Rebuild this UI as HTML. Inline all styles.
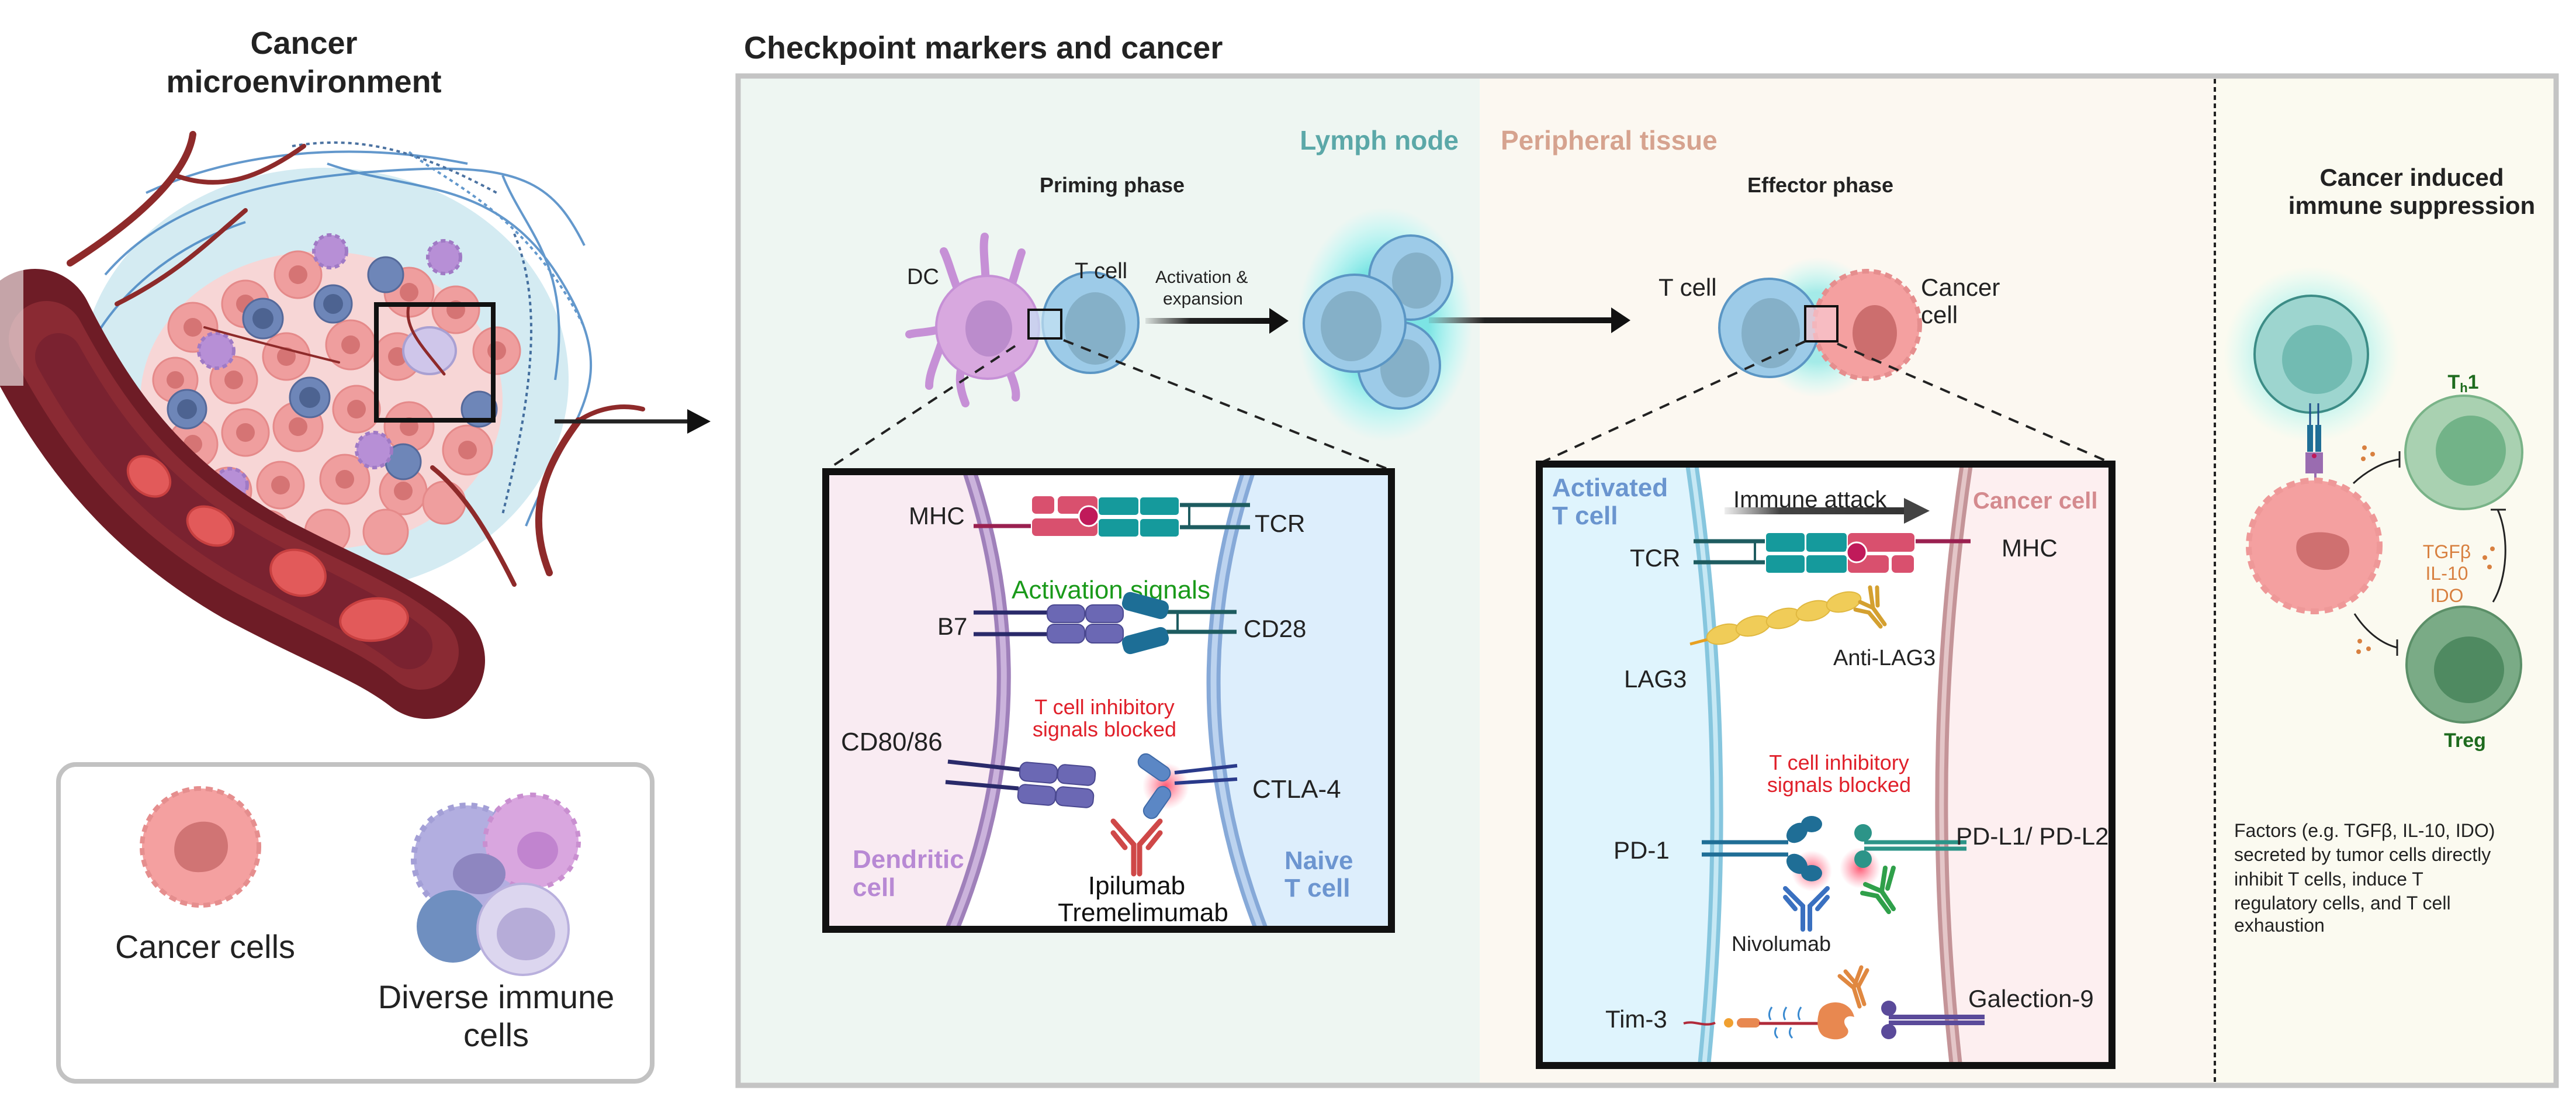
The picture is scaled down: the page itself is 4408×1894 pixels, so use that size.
<!DOCTYPE html>
<html><head><meta charset="utf-8">
<style>
html,body{margin:0;padding:0;background:#fff;}
svg{display:block;}
text{font-family:"Liberation Sans",Arial,sans-serif;}
</style></head>
<body>
<svg width="4408" height="1894" viewBox="0 0 4408 1894" xmlns="http://www.w3.org/2000/svg">
<defs>
<linearGradient id="ag1" gradientUnits="userSpaceOnUse" x1="1960" y1="0" x2="2180" y2="0"><stop offset="0" stop-color="#222" stop-opacity="0.1"/><stop offset="0.35" stop-color="#222"/><stop offset="1" stop-color="#111"/></linearGradient>
<linearGradient id="ag3" gradientUnits="userSpaceOnUse" x1="2445" y1="0" x2="2765" y2="0"><stop offset="0" stop-color="#222" stop-opacity="0.1"/><stop offset="0.3" stop-color="#222"/><stop offset="1" stop-color="#111"/></linearGradient>
<linearGradient id="ag2" gradientUnits="userSpaceOnUse" x1="2951" y1="0" x2="3265" y2="0"><stop offset="0" stop-color="#555" stop-opacity="0.1"/><stop offset="0.3" stop-color="#444"/><stop offset="1" stop-color="#333"/></linearGradient>
<radialGradient id="glow"><stop offset="0.5" stop-color="#5fe0e0" stop-opacity="0.8"/><stop offset="1" stop-color="#8ff" stop-opacity="0"/></radialGradient>
<radialGradient id="rglow"><stop offset="0" stop-color="#ff3050" stop-opacity="0.8"/><stop offset="1" stop-color="#ff6080" stop-opacity="0"/></radialGradient>
</defs>

<text x="520" y="92" font-size="54" font-weight="bold" text-anchor="middle" fill="#222">Cancer</text>
<text x="520" y="158" font-size="54" font-weight="bold" text-anchor="middle" fill="#222">microenvironment</text>

<ellipse cx="555" cy="650" rx="418" ry="363" fill="#cfe9f1" opacity="0.9"/>
<g stroke="#3d7fc0" stroke-width="4" fill="none" opacity="0.8">
<path d="M180,470 C300,330 500,300 700,290 S950,320 1000,420"/>
<path d="M250,330 C400,260 600,240 800,280"/>
<path d="M560,280 C700,330 850,300 960,480 S980,700 900,900"/>
<path d="M150,600 C200,500 300,420 420,380"/>
<path d="M860,300 C900,400 980,450 950,650"/>
<path d="M700,260 C760,310 900,360 1000,560" stroke-dasharray="6 6"/>
<path d="M500,250 C620,230 720,260 850,330" stroke-dasharray="6 6" stroke="#1f4f8a"/>
<path d="M880,400 C930,520 910,680 860,880" stroke-dasharray="6 6" stroke="#1f4f8a"/>
</g>
<ellipse cx="550" cy="685" rx="310" ry="255" fill="#f7d6d6"/>
<g fill="#ef9e9e" stroke="#e58a8a" stroke-width="3">
<circle cx="330" cy="560" r="42"/><circle cx="420" cy="520" r="40"/><circle cx="510" cy="470" r="40"/><circle cx="700" cy="500" r="42"/><circle cx="780" cy="530" r="40"/>
<circle cx="300" cy="650" r="38"/><circle cx="400" cy="650" r="40"/><circle cx="490" cy="610" r="40"/><circle cx="600" cy="590" r="42"/><circle cx="680" cy="610" r="40"/><circle cx="850" cy="600" r="40"/>
<circle cx="330" cy="760" r="42"/><circle cx="420" cy="740" r="40"/><circle cx="510" cy="730" r="42"/><circle cx="610" cy="700" r="40"/><circle cx="700" cy="730" r="42"/><circle cx="800" cy="770" r="42"/>
<circle cx="390" cy="840" r="40"/><circle cx="480" cy="830" r="40"/><circle cx="590" cy="820" r="42"/><circle cx="690" cy="840" r="40"/><circle cx="560" cy="910" r="38"/><circle cx="460" cy="910" r="36"/><circle cx="660" cy="910" r="38"/><circle cx="760" cy="860" r="36"/>
</g>
<g fill="#d57474">
<circle cx="330" cy="560" r="16"/><circle cx="420" cy="520" r="16"/><circle cx="510" cy="470" r="16"/><circle cx="700" cy="500" r="16"/><circle cx="780" cy="530" r="16"/>
<circle cx="300" cy="650" r="15"/><circle cx="400" cy="650" r="16"/><circle cx="490" cy="610" r="16"/><circle cx="600" cy="590" r="16"/><circle cx="680" cy="610" r="16"/><circle cx="850" cy="600" r="16"/>
<circle cx="330" cy="760" r="16"/><circle cx="420" cy="740" r="16"/><circle cx="510" cy="730" r="16"/><circle cx="610" cy="700" r="16"/><circle cx="700" cy="730" r="16"/><circle cx="800" cy="770" r="16"/>
<circle cx="390" cy="840" r="16"/><circle cx="480" cy="830" r="16"/><circle cx="590" cy="820" r="16"/><circle cx="690" cy="840" r="16"/>
</g>
<g fill="#6e86b8" stroke="#55699a" stroke-width="3">
<circle cx="450" cy="545" r="34"/><circle cx="570" cy="520" r="32"/><circle cx="320" cy="700" r="33"/><circle cx="530" cy="680" r="34"/><circle cx="820" cy="700" r="30"/><circle cx="660" cy="470" r="30"/><circle cx="690" cy="790" r="30"/>
</g>
<g fill="#4d6391"><circle cx="450" cy="545" r="18"/><circle cx="570" cy="520" r="17"/><circle cx="320" cy="700" r="17"/><circle cx="530" cy="680" r="18"/></g>
<g fill="#b78fd6" stroke="#a07ac5" stroke-width="6" stroke-dasharray="8 6">
<circle cx="370" cy="600" r="30"/><circle cx="640" cy="770" r="30"/><circle cx="395" cy="830" r="28"/><circle cx="565" cy="430" r="28"/><circle cx="760" cy="440" r="28"/>
</g>
<ellipse cx="735" cy="600" rx="45" ry="40" fill="#cfc6ea" stroke="#a9a0d2" stroke-width="4"/>
<g stroke="#8e2a2a" stroke-width="8" fill="none" stroke-linecap="round">
<path d="M120,450 C230,380 320,300 330,230" stroke-width="12"/>
<path d="M300,300 C380,330 450,300 520,250"/>
<path d="M200,520 C300,470 350,420 420,360"/>
<path d="M940,980 C900,880 930,800 990,720" stroke-width="12"/>
<path d="M990,720 C1020,700 1060,690 1100,700"/>
<path d="M880,1000 C830,900 790,840 740,800"/>
<path d="M760,640 C720,590 690,560 700,520" stroke-width="5"/>
<path d="M350,560 C420,580 500,600 580,620" stroke-width="4"/>
</g>
<!-- blood vessel -->
<path d="M60,560 C140,720 240,860 430,970 C570,1045 660,1075 730,1130" stroke="#6e1c26" stroke-width="200" fill="none" stroke-linecap="round"/>
<path d="M80,580 C160,730 255,860 440,960 C575,1030 655,1060 720,1115" stroke="#8a2a33" stroke-width="130" fill="none" stroke-linecap="round"/>
<path d="M100,610 C175,745 265,865 450,965 C575,1030 645,1060 700,1105" stroke="#7a2230" stroke-width="80" fill="none" stroke-linecap="round"/>
<rect x="0" y="430" width="40" height="230" fill="#fff" opacity="0.6"/>
<g fill="#e25a5a" stroke="#c84040" stroke-width="4">
<ellipse cx="255" cy="815" rx="40" ry="30" transform="rotate(40 255 815)"/>
<ellipse cx="360" cy="900" rx="42" ry="30" transform="rotate(30 360 900)"/>
<ellipse cx="510" cy="980" rx="48" ry="38" transform="rotate(20 510 980)"/>
<ellipse cx="640" cy="1060" rx="58" ry="36" transform="rotate(-5 640 1060)"/>
</g>
<rect x="644" y="521" width="200" height="198" fill="none" stroke="#111" stroke-width="8"/>
<line x1="949" y1="721" x2="1180" y2="721" stroke="#222" stroke-width="7"/>
<polygon points="1176,700 1216,721 1176,742" fill="#111"/>

<rect x="100" y="1308" width="1016" height="542" rx="30" fill="#fff" stroke="#c2c2c2" stroke-width="8"/>
<circle cx="343" cy="1449" r="100" fill="#f4a0a0" stroke="#e58e8e" stroke-width="8" stroke-dasharray="12 8"/>
<path d="M300,1440 C310,1400 370,1395 385,1425 C400,1460 380,1490 345,1492 C310,1495 292,1470 300,1440Z" fill="#d07474"/>
<text x="351" y="1639" font-size="56" text-anchor="middle" fill="#222">Cancer cells</text>
<circle cx="800" cy="1470" r="92" fill="#b2aee0" stroke="#a39fd6" stroke-width="10" stroke-dasharray="10 10"/>
<circle cx="910" cy="1440" r="80" fill="#d9a6df" stroke="#c98fd0" stroke-width="8" stroke-dasharray="10 12"/>
<ellipse cx="820" cy="1495" rx="45" ry="35" fill="#8e86c0"/>
<ellipse cx="920" cy="1455" rx="35" ry="32" fill="#c184cf"/>
<circle cx="775" cy="1585" r="62" fill="#6f8fc0"/>
<circle cx="895" cy="1590" r="78" fill="#dcd6ef" stroke="#b9b0dd" stroke-width="4"/>
<ellipse cx="900" cy="1598" rx="50" ry="45" fill="#b6acd8"/>
<text x="849" y="1725" font-size="56" text-anchor="middle" fill="#222">Diverse immune</text>
<text x="849" y="1790" font-size="56" text-anchor="middle" fill="#222">cells</text>

<text x="1273" y="100" font-size="54" font-weight="bold" fill="#222">Checkpoint markers and cancer</text>
<rect x="1264" y="131" width="1268" height="1725" fill="#eef6f2"/>
<rect x="2532" y="131" width="1258" height="1725" fill="#fcf8f1"/>
<rect x="3790" y="131" width="582" height="1725" fill="#fbfaf0"/>
<rect x="1263" y="130" width="3111" height="1727" fill="none" stroke="#c4c4c4" stroke-width="9"/>
<line x1="3790" y1="135" x2="3790" y2="1852" stroke="#222" stroke-width="4" stroke-dasharray="8 6"/>

<text x="2496" y="256" font-size="46" font-weight="bold" text-anchor="end" fill="#5ba8a8">Lymph node</text>
<text x="2568" y="256" font-size="46" font-weight="bold" fill="#d6a38f">Peripheral tissue</text>
<text x="1903" y="329" font-size="36" font-weight="bold" text-anchor="middle" fill="#222">Priming phase</text>
<text x="3115" y="329" font-size="36" font-weight="bold" text-anchor="middle" fill="#222">Effector phase</text>

<g stroke="#c690d6" stroke-width="14" stroke-linecap="round" fill="none">
<path d="M1686,520 C1690,470 1680,430 1685,405"/>
<path d="M1650,520 C1630,480 1625,450 1615,430"/>
<path d="M1720,520 C1735,480 1740,455 1748,432"/>
<path d="M1620,560 C1590,570 1570,568 1556,572"/>
<path d="M1650,610 C1640,640 1640,660 1652,690"/>
<path d="M1720,620 C1735,650 1740,670 1738,680"/>
<path d="M1610,590 C1600,620 1590,640 1590,660"/>
</g>
<ellipse cx="1690" cy="560" rx="88" ry="88" fill="#d8a8df" stroke="#c690d6" stroke-width="4"/>
<ellipse cx="1692" cy="562" rx="40" ry="48" fill="#bb8ccc"/>
<ellipse cx="1866" cy="552" rx="82" ry="86" fill="#9dcbe8" stroke="#5b96c4" stroke-width="4"/>
<ellipse cx="1874" cy="562" rx="52" ry="62" fill="#85b0c8"/>
<rect x="1760" y="530" width="56" height="49" fill="#c6e2f4" fill-opacity="0.7" stroke="#111" stroke-width="4"/>
<text x="1552" y="486" font-size="38" fill="#222">DC</text>
<text x="1839" y="476" font-size="38" fill="#222">T cell</text>
<text x="1977" y="484" font-size="30" fill="#222">Activation &amp;</text>
<text x="1990" y="521" font-size="30" fill="#222">expansion</text>
<rect x="1960" y="544" width="220" height="10" fill="url(#ag1)"/>
<polygon points="2172,527 2205,549 2172,571" fill="#111"/>

<ellipse cx="2370" cy="555" rx="150" ry="200" fill="url(#glow)"/>
<ellipse cx="2414" cy="475" rx="71" ry="72" fill="#9dcbe8" stroke="#5b96c4" stroke-width="4"/>
<ellipse cx="2424" cy="480" rx="42" ry="48" fill="#85b0c8"/>
<ellipse cx="2394" cy="625" rx="70" ry="74" fill="#9dcbe8" stroke="#5b96c4" stroke-width="4"/>
<ellipse cx="2404" cy="630" rx="42" ry="50" fill="#85b0c8"/>
<ellipse cx="2318" cy="553" rx="87" ry="83" fill="#9dcbe8" stroke="#5b96c4" stroke-width="4"/>
<ellipse cx="2312" cy="558" rx="52" ry="60" fill="#85b0c8"/>
<rect x="2445" y="543" width="320" height="10" fill="url(#ag3)"/>
<polygon points="2757,526 2790,548 2757,570" fill="#111"/>

<ellipse cx="3110" cy="560" rx="110" ry="120" fill="url(#glow)" opacity="0.7"/>
<ellipse cx="3027" cy="561" rx="85" ry="84" fill="#9dcbe8" stroke="#5b96c4" stroke-width="4"/>
<ellipse cx="3030" cy="570" rx="50" ry="60" fill="#85b0c8"/>
<ellipse cx="3195" cy="556" rx="90" ry="92" fill="#f4a0a0" stroke="#e58e8e" stroke-width="8" stroke-dasharray="12 8"/>
<ellipse cx="3208" cy="570" rx="38" ry="48" fill="#cc6e6e"/>
<rect x="3089" y="524" width="55" height="60" fill="#f8c8d0" fill-opacity="0.7" stroke="#111" stroke-width="4"/>
<text x="2838" y="506" font-size="42" fill="#222">T cell</text>
<text x="3287" y="506" font-size="42" fill="#222">Cancer</text>
<text x="3287" y="553" font-size="42" fill="#222">cell</text>

<g stroke="#222" stroke-width="4" stroke-dasharray="18 14" fill="none">
<line x1="1737" y1="592" x2="1413" y2="805"/>
<line x1="1820" y1="582" x2="2381" y2="805"/>
<line x1="3089" y1="584" x2="2636" y2="792"/>
<line x1="3144" y1="588" x2="3612" y2="792"/>
</g>

<rect x="1413" y="807" width="968" height="783" fill="#fff"/>
<path d="M1413,807 L1659,807 Q1790,1200 1629,1590 L1413,1590 Z" fill="#f9ebf2"/>
<path d="M2381,807 L2136,807 Q2007,1200 2158,1590 L2381,1590 Z" fill="#ddeefc"/>
<path d="M1659,807 Q1790,1200 1629,1590" stroke="#9f80ba" stroke-width="24" fill="none"/>
<path d="M1659,807 Q1790,1200 1629,1590" stroke="#cbb3dc" stroke-width="10" fill="none"/>
<path d="M2136,807 Q2007,1200 2158,1590" stroke="#86a9d8" stroke-width="24" fill="none"/>
<path d="M2136,807 Q2007,1200 2158,1590" stroke="#bcd3ef" stroke-width="10" fill="none"/>
<line x1="1666" y1="900" x2="1770" y2="900" stroke="#9a2050" stroke-width="7"/>
<line x1="2015" y1="864" x2="2139" y2="864" stroke="#1e5c60" stroke-width="7"/>
<line x1="2015" y1="902" x2="2139" y2="902" stroke="#1e5c60" stroke-width="7"/>
<line x1="2035" y1="864" x2="2035" y2="902" stroke="#1e5c60" stroke-width="4"/>
<g fill="#d9506e" stroke="#fff" stroke-width="2">
<rect x="1765" y="848" width="40" height="32" rx="8"/><rect x="1809" y="848" width="70" height="32" rx="8"/>
<rect x="1765" y="886" width="114" height="32" rx="8"/>
</g>
<g fill="#159a9c" stroke="#fff" stroke-width="2">
<rect x="1879" y="850" width="70" height="32" rx="6"/><rect x="1950" y="850" width="68" height="32" rx="6"/>
<rect x="1879" y="887" width="70" height="32" rx="6"/><rect x="1950" y="887" width="68" height="32" rx="6"/>
</g>
<circle cx="1863" cy="883" r="17" fill="#c01a5a" stroke="#fff" stroke-width="3"/>
<text x="1555" y="897" font-size="42" fill="#222">MHC</text>
<text x="2147" y="910" font-size="42" fill="#222">TCR</text>
<text x="1731" y="1024" font-size="44" fill="#1a9a1a">Activation signals</text>
<line x1="1666" y1="1048" x2="1795" y2="1048" stroke="#2a2a6a" stroke-width="7"/>
<line x1="1666" y1="1085" x2="1795" y2="1085" stroke="#2a2a6a" stroke-width="7"/>
<line x1="1995" y1="1047" x2="2116" y2="1047" stroke="#1e5c60" stroke-width="7"/>
<line x1="1995" y1="1081" x2="2116" y2="1081" stroke="#1e5c60" stroke-width="7"/>
<line x1="2015" y1="1047" x2="2015" y2="1081" stroke="#1e5c60" stroke-width="4"/>
<g fill="#6b68b4" stroke="#4a4890" stroke-width="2">
<rect x="1792" y="1035" width="64" height="30" rx="12"/><rect x="1858" y="1035" width="64" height="30" rx="12"/>
<rect x="1792" y="1068" width="64" height="32" rx="12"/><rect x="1858" y="1068" width="64" height="32" rx="12"/>
</g>
<g fill="#1d6e96">
<rect x="1920" y="1020" width="80" height="32" rx="12" transform="rotate(15 1960 1036)"/>
<rect x="1920" y="1080" width="80" height="32" rx="12" transform="rotate(-15 1960 1096)"/>
</g>
<text x="1604" y="1086" font-size="42" fill="#222">B7</text>
<text x="2128" y="1090" font-size="42" fill="#222">CD28</text>
<text x="1890" y="1222" font-size="36" fill="#e0202a" text-anchor="middle">T cell inhibitory</text>
<text x="1890" y="1260" font-size="36" fill="#e0202a" text-anchor="middle">signals blocked</text>
<text x="1439" y="1284" font-size="44" fill="#222">CD80/86</text>
<line x1="1622" y1="1303" x2="1747" y2="1317" stroke="#2a2a6a" stroke-width="7"/>
<line x1="1618" y1="1338" x2="1743" y2="1349" stroke="#2a2a6a" stroke-width="7"/>
<g fill="#6b68b4" stroke="#4a4890" stroke-width="2">
<rect x="1745" y="1306" width="64" height="32" rx="12" transform="rotate(5 1777 1322)"/><rect x="1810" y="1310" width="64" height="32" rx="12" transform="rotate(5 1842 1326)"/>
<rect x="1742" y="1344" width="64" height="32" rx="12" transform="rotate(5 1774 1360)"/><rect x="1807" y="1348" width="64" height="32" rx="12" transform="rotate(5 1839 1364)"/>
</g>
<circle cx="1995" cy="1345" r="40" fill="url(#rglow)"/>
<g fill="#5b87c5" stroke="#3f6aa8" stroke-width="2">
<rect x="1945" y="1300" width="60" height="26" rx="12" transform="rotate(35 1975 1313)"/>
<rect x="1950" y="1360" width="60" height="26" rx="12" transform="rotate(-55 1980 1373)"/>
</g>
<line x1="2010" y1="1322" x2="2117" y2="1310" stroke="#2a3a8a" stroke-width="6"/>
<line x1="2010" y1="1340" x2="2117" y2="1333" stroke="#2a3a8a" stroke-width="6"/>
<text x="2143" y="1365" font-size="44" fill="#222">CTLA-4</text>
<g stroke="#cf4848" stroke-width="9" fill="none" stroke-linecap="round">
<path d="M1940,1495 L1940,1445 L1905,1405"/><path d="M1950,1495 L1950,1445 L1985,1405"/>
<path d="M1905,1425 L1925,1450"/><path d="M1985,1425 L1965,1450"/>
</g>
<text x="1945" y="1530" font-size="44" fill="#111" text-anchor="middle">Ipilumab</text>
<text x="1956" y="1576" font-size="44" fill="#111" text-anchor="middle">Tremelimumab</text>
<text x="1459" y="1485" font-size="44" font-weight="bold" fill="#b889d4">Dendritic</text>
<text x="1459" y="1533" font-size="44" font-weight="bold" fill="#b889d4">cell</text>
<text x="2198" y="1487" font-size="44" font-weight="bold" fill="#6c95d0">Naive</text>
<text x="2198" y="1534" font-size="44" font-weight="bold" fill="#6c95d0">T cell</text>
<rect x="1413" y="807" width="968" height="783" fill="none" stroke="#111" stroke-width="12"/>

<rect x="2634" y="794" width="980" height="1029" fill="#fff"/>
<path d="M2634,794 L2895,794 Q2968,1300 2916,1823 L2634,1823 Z" fill="#dff4fd"/>
<path d="M3614,794 L3365,794 Q3290,1300 3347,1823 L3614,1823 Z" fill="#fdeff0"/>
<path d="M2895,794 Q2968,1300 2916,1823" stroke="#86c6de" stroke-width="22" fill="none"/>
<path d="M2895,794 Q2968,1300 2916,1823" stroke="#c6e8f4" stroke-width="8" fill="none"/>
<path d="M3365,794 Q3290,1300 3347,1823" stroke="#c49498" stroke-width="22" fill="none"/>
<path d="M3365,794 Q3290,1300 3347,1823" stroke="#e4c6c8" stroke-width="8" fill="none"/>
<text x="2656" y="849" font-size="44" font-weight="bold" fill="#6a95cf">Activated</text>
<text x="2656" y="897" font-size="44" font-weight="bold" fill="#6a95cf">T cell</text>
<text x="3376" y="870" font-size="40" font-weight="bold" fill="#d48a8e">Cancer cell</text>
<text x="2966" y="868" font-size="40" fill="#222">Immune attack</text>
<rect x="2951" y="868" width="314" height="12" fill="url(#ag2)"/>
<polygon points="3258,852 3302,874 3258,896" fill="#444"/>
<line x1="2898" y1="926" x2="3025" y2="926" stroke="#1e5c60" stroke-width="7"/>
<line x1="2898" y1="962" x2="3025" y2="962" stroke="#1e5c60" stroke-width="7"/>
<line x1="3003" y1="926" x2="3003" y2="962" stroke="#1e5c60" stroke-width="4"/>
<line x1="3270" y1="926" x2="3372" y2="926" stroke="#9a2050" stroke-width="7"/>
<g fill="#159a9c" stroke="#fff" stroke-width="2">
<rect x="3021" y="911" width="68" height="34" rx="6"/><rect x="3090" y="911" width="71" height="34" rx="6"/>
<rect x="3021" y="949" width="68" height="32" rx="6"/><rect x="3090" y="949" width="71" height="32" rx="6"/>
</g>
<g fill="#d9506e" stroke="#fff" stroke-width="2">
<rect x="3161" y="911" width="116" height="34" rx="8"/>
<rect x="3161" y="949" width="72" height="32" rx="8"/><rect x="3236" y="949" width="40" height="32" rx="8"/>
</g>
<circle cx="3177" cy="945" r="17" fill="#c01a5a" stroke="#fff" stroke-width="3"/>
<text x="2789" y="969" font-size="42" fill="#222">TCR</text>
<text x="3425" y="952" font-size="42" fill="#222">MHC</text>
<line x1="2892" y1="1102" x2="2930" y2="1092" stroke="#e8a020" stroke-width="5"/>
<g fill="#f0cc58" stroke="#e0b840" stroke-width="2">
<ellipse cx="2950" cy="1085" rx="30" ry="16" transform="rotate(-15 2950 1085)"/>
<ellipse cx="3000" cy="1071" rx="30" ry="16" transform="rotate(-15 3000 1071)"/>
<ellipse cx="3052" cy="1058" rx="30" ry="16" transform="rotate(-15 3052 1058)"/>
<ellipse cx="3103" cy="1045" rx="30" ry="16" transform="rotate(-15 3103 1045)"/>
<ellipse cx="3155" cy="1030" rx="30" ry="16" transform="rotate(-15 3155 1030)"/>
</g>
<g stroke="#d4a030" stroke-width="7" fill="none" stroke-linecap="round">
<path d="M3225,1068 L3205,1040 L3183,1030"/><path d="M3218,1072 L3198,1048 L3175,1043"/>
<path d="M3205,1040 L3200,1005"/><path d="M3213,1036 L3212,1005"/>
</g>
<text x="2779" y="1176" font-size="42" fill="#222">LAG3</text>
<text x="3137" y="1138" font-size="38" fill="#222">Anti-LAG3</text>
<text x="3147" y="1317" font-size="36" fill="#e0202a" text-anchor="middle">T cell inhibitory</text>
<text x="3147" y="1355" font-size="36" fill="#e0202a" text-anchor="middle">signals blocked</text>
<circle cx="3100" cy="1490" r="35" fill="url(#rglow)"/>
<circle cx="3183" cy="1485" r="35" fill="url(#rglow)"/>
<line x1="2912" y1="1441" x2="3060" y2="1441" stroke="#1f6e96" stroke-width="7"/>
<line x1="2912" y1="1462" x2="3060" y2="1462" stroke="#1f6e96" stroke-width="7"/>
<g fill="#1f6e96">
<ellipse cx="3075" cy="1425" rx="20" ry="15" transform="rotate(-40 3075 1425)"/><ellipse cx="3100" cy="1410" rx="18" ry="14"/>
<ellipse cx="3075" cy="1478" rx="20" ry="15" transform="rotate(40 3075 1478)"/><ellipse cx="3100" cy="1494" rx="18" ry="14"/>
</g>
<line x1="3190" y1="1441" x2="3365" y2="1441" stroke="#2c9488" stroke-width="7"/>
<line x1="3190" y1="1452" x2="3365" y2="1452" stroke="#2c9488" stroke-width="7"/>
<g fill="#2c9488"><circle cx="3188" cy="1425" r="15"/><circle cx="3188" cy="1470" r="15"/></g>
<text x="2761" y="1469" font-size="42" fill="#222">PD-1</text>
<text x="3347" y="1445" font-size="42" fill="#222">PD-L1/ PD-L2</text>
<g stroke="#3a70c0" stroke-width="8" fill="none" stroke-linecap="round">
<path d="M3085,1590 L3085,1550 L3055,1520"/><path d="M3097,1590 L3097,1550 L3127,1520"/>
<path d="M3055,1535 L3072,1555"/><path d="M3127,1535 L3110,1555"/>
</g>
<text x="3048" y="1627" font-size="36" fill="#222" text-anchor="middle">Nivolumab</text>
<g stroke="#2fa04a" stroke-width="8" fill="none" stroke-linecap="round">
<path d="M3240,1555 L3220,1525 L3192,1513"/><path d="M3232,1560 L3212,1533 L3187,1528"/>
<path d="M3220,1525 L3226,1485"/><path d="M3230,1520 L3240,1485"/>
</g>
<path d="M2881,1751 C2900,1745 2915,1758 2935,1750" stroke="#b02a3a" stroke-width="4" fill="none"/>
<circle cx="2958" cy="1750" r="8" fill="#f0a030"/>
<rect x="2972" y="1742" width="40" height="16" rx="8" fill="#e88850"/>
<line x1="3010" y1="1751" x2="3112" y2="1751" stroke="#b02a3a" stroke-width="5"/>
<g stroke="#3a8ad0" stroke-width="3" fill="none"><path d="M3030,1745 q-6,-10 2,-22"/><path d="M3055,1745 q-6,-10 2,-22"/><path d="M3080,1745 q-6,-10 2,-22"/><path d="M3040,1758 q-6,10 2,18"/><path d="M3065,1758 q-6,10 2,18"/></g>
<path d="M3112,1735 C3115,1710 3165,1705 3173,1740 C3160,1735 3150,1745 3160,1758 C3170,1770 3150,1785 3125,1775 C3110,1770 3108,1750 3112,1735Z" fill="#e88850"/>
<g stroke="#e08840" stroke-width="7" fill="none" stroke-linecap="round">
<path d="M3182,1722 L3172,1690 L3148,1670"/><path d="M3190,1718 L3180,1688 L3158,1662"/>
<path d="M3172,1690 L3185,1655"/><path d="M3180,1688 L3195,1660"/>
</g>
<line x1="3232" y1="1740" x2="3396" y2="1740" stroke="#5a4a9a" stroke-width="8"/>
<line x1="3232" y1="1750" x2="3396" y2="1750" stroke="#5a4a9a" stroke-width="8"/>
<g fill="#5a4a9a"><circle cx="3232" cy="1725" r="13"/><circle cx="3232" cy="1765" r="13"/></g>
<text x="2747" y="1758" font-size="42" fill="#222">Tim-3</text>
<text x="3368" y="1723" font-size="42" fill="#222">Galection-9</text>
<rect x="2634" y="794" width="980" height="1029" fill="none" stroke="#111" stroke-width="12"/>

<text x="4127" y="318" font-size="42" font-weight="bold" text-anchor="middle" fill="#222">Cancer induced</text>
<text x="4127" y="366" font-size="42" font-weight="bold" text-anchor="middle" fill="#222">immune suppression</text>
<ellipse cx="3955" cy="606" rx="150" ry="150" fill="url(#glow)" opacity="0.6"/>
<ellipse cx="3955" cy="606" rx="97" ry="100" fill="#9dd5cf" stroke="#3c8c86" stroke-width="4"/>
<ellipse cx="3965" cy="615" rx="60" ry="59" fill="#72bbb2"/>
<line x1="3953" y1="690" x2="3953" y2="730" stroke="#1f4f8a" stroke-width="3"/>
<line x1="3967" y1="690" x2="3967" y2="730" stroke="#1f4f8a" stroke-width="3"/>
<rect x="3948" y="727" width="10" height="46" fill="#1f6e96"/><rect x="3962" y="727" width="10" height="46" fill="#1f6e96"/>
<rect x="3945" y="774" width="30" height="36" fill="#9a6cb0"/>
<circle cx="3960" cy="780" r="4" fill="#c01a5a"/>
<line x1="3962" y1="810" x2="3962" y2="840" stroke="#9a6cb0" stroke-width="4"/>
<ellipse cx="3960" cy="934" rx="112" ry="112" fill="#f4a0a0" stroke="#ee9898" stroke-width="10" stroke-dasharray="14 10"/>
<path d="M3930,930 C3935,905 3995,905 4015,925 C4030,950 4010,975 3980,975 C3945,975 3925,955 3930,930Z" fill="#cf7070"/>
<text x="4215" y="665" font-size="34" font-weight="bold" text-anchor="middle" fill="#1e6b1e">T<tspan font-size="22" dy="6">h</tspan><tspan dy="-6">1</tspan></text>
<ellipse cx="4216" cy="774" rx="100" ry="97" fill="#a9d1b1" stroke="#79b388" stroke-width="4"/>
<ellipse cx="4228" cy="771" rx="60" ry="60" fill="#72b388"/>
<ellipse cx="4216" cy="1137" rx="98" ry="99" fill="#7aab86" stroke="#5b8f68" stroke-width="4"/>
<ellipse cx="4225" cy="1146" rx="60" ry="57" fill="#4f8a61"/>
<text x="4218" y="1278" font-size="34" font-weight="bold" text-anchor="middle" fill="#1e6b1e">Treg</text>
<text x="4187" y="955" font-size="32" text-anchor="middle" fill="#d88040">TGFβ</text>
<text x="4187" y="992" font-size="32" text-anchor="middle" fill="#d88040">IL-10</text>
<text x="4187" y="1030" font-size="32" text-anchor="middle" fill="#d88040">IDO</text>
<g stroke="#222" stroke-width="3" fill="none">
<path d="M4027,827 C4045,810 4075,790 4106,786"/><line x1="4106" y1="772" x2="4106" y2="800"/>
<path d="M4029,1050 C4045,1075 4070,1100 4102,1108"/><line x1="4102" y1="1094" x2="4102" y2="1122"/>
<path d="M4266,1030 C4290,990 4295,920 4274,872"/><line x1="4262" y1="872" x2="4288" y2="872"/>
</g>
<g fill="#d88040">
<circle cx="4046" cy="766" r="4"/><circle cx="4044" cy="785" r="4"/><circle cx="4060" cy="777" r="4"/>
<circle cx="4038" cy="1097" r="4"/><circle cx="4036" cy="1115" r="4"/><circle cx="4053" cy="1110" r="4"/>
<circle cx="4265" cy="939" r="4"/><circle cx="4252" cy="954" r="4"/><circle cx="4260" cy="970" r="4"/>
</g>
<g font-size="32" fill="#222">
<text x="3823" y="1432">Factors (e.g. TGFβ, IL-10, IDO)</text>
<text x="3823" y="1473">secreted by tumor cells directly</text>
<text x="3823" y="1515">inhibit T cells,  induce T</text>
<text x="3823" y="1556">regulatory cells, and T cell</text>
<text x="3823" y="1594">exhaustion</text>
</g>
</svg>
</body></html>
